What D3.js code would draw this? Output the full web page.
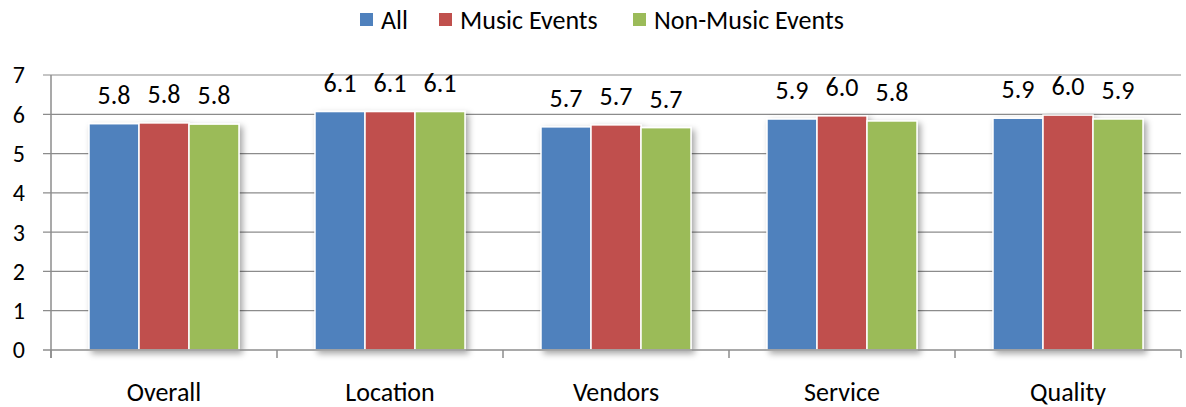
<!DOCTYPE html>
<html>
<head>
<meta charset="utf-8">
<script src="https://cdn.jsdelivr.net/npm/d3@7"></script>
<style>
  body { margin: 0; background: #fff; }
  svg { display: block; font-family: Carlito, Calibri, Lato, sans-serif; }
</style>
</head>
<body>
<svg id="chart" width="1186" height="407"></svg>
<script>
const categories = ["Overall", "Location", "Vendors", "Service", "Quality"];
const seriesNames = ["All", "Music Events", "Non-Music Events"];
const allValues = [5.76, 6.07, 5.68, 5.88, 5.9];
const musicValues = [5.78, 6.07, 5.73, 5.96, 5.98];
const nonMusicValues = [5.75, 6.07, 5.66, 5.83, 5.88];
const yTicks = [0, 1, 2, 3, 4, 5, 6, 7];
const colors = ["#4f81bd", "#c0504d", "#9bbb59"];

const seriesValues = [allValues, musicValues, nonMusicValues];

const svg = d3.select("#chart");
const width = 1186;
const margin = { top: 75, right: 5, bottom: 57, left: 51 };
const height = 407;

// shadow for the bar groups
const defs = svg.append("defs");
const filter = defs.append("filter").attr("id", "shadow")
  .attr("x", "-20%").attr("y", "-20%").attr("width", "140%").attr("height", "140%");
filter.append("feDropShadow")
  .attr("dx", 3).attr("dy", 3).attr("stdDeviation", 3)
  .attr("flood-color", "#000").attr("flood-opacity", 0.35);

const x = d3.scaleBand()
  .domain(categories)
  .range([margin.left, width - margin.right]);

const xInner = d3.scaleBand()
  .domain(seriesNames)
  .range([0, x.bandwidth()])
  .paddingOuter(0.76);

const y = d3.scaleLinear()
  .domain([0, 7])
  .range([height - margin.bottom, margin.top]);

// gridlines
svg.append("g")
  .selectAll("line")
  .data(yTicks.filter(d => d > 0))
  .join("line")
  .attr("x1", margin.left - 8)
  .attr("x2", width - margin.right)
  .attr("y1", d => y(d))
  .attr("y2", d => y(d))
  .attr("stroke", "#8c8c8c")
  .attr("stroke-width", 1.2);

// y axis labels
svg.append("g")
  .selectAll("text")
  .data(yTicks)
  .join("text")
  .attr("x", 25)
  .attr("y", d => y(d))
  .attr("dy", "0.35em")
  .attr("text-anchor", "end")
  .attr("font-size", 24)
  .attr("fill", "#000")
  .text(d => d);

// bars
const groups = svg.append("g")
  .selectAll("g")
  .data(categories)
  .join("g")
  .attr("transform", d => `translate(${x(d)},0)`)
  .attr("filter", "url(#shadow)");

groups.selectAll("rect")
  .data((c, i) => seriesNames.map((s, j) => ({ s, j, v: seriesValues[j][i] })))
  .join("rect")
  .attr("x", d => xInner(d.s))
  .attr("width", xInner.bandwidth())
  .attr("y", d => y(d.v))
  .attr("height", d => y(0) - y(d.v))
  .attr("fill", d => colors[d.j])
  .attr("stroke", "#fff")
  .attr("stroke-width", 1.5);

// value labels
svg.append("g")
  .selectAll("g")
  .data(categories)
  .join("g")
  .attr("transform", d => `translate(${x(d)},0)`)
  .selectAll("text")
  .data((c, i) => seriesNames.map((s, j) => ({ s, j, v: seriesValues[j][i] })))
  .join("text")
  .attr("x", d => xInner(d.s) + xInner.bandwidth() / 2)
  .attr("y", d => y(d.v) - 20)
  .attr("text-anchor", "middle")
  .attr("font-size", 26)
  .attr("fill", "#000")
  .text(d => d.v.toFixed(1));

// axes lines
const axisColor = "#8c8c8c";
svg.append("line")
  .attr("x1", margin.left).attr("x2", margin.left)
  .attr("y1", y(7)).attr("y2", y(0) + 8)
  .attr("stroke", axisColor).attr("stroke-width", 1.5);

svg.append("line")
  .attr("x1", margin.left - 8).attr("x2", width - margin.right)
  .attr("y1", y(0)).attr("y2", y(0))
  .attr("stroke", axisColor).attr("stroke-width", 1.5);

svg.append("g")
  .selectAll("line")
  .data(categories.map(c => x(c)).concat([x.range()[1]]))
  .join("line")
  .attr("x1", d => d).attr("x2", d => d)
  .attr("y1", y(0)).attr("y2", y(0) + 8)
  .attr("stroke", axisColor).attr("stroke-width", 1.5);

// category labels
svg.append("g")
  .selectAll("text")
  .data(categories)
  .join("text")
  .attr("x", d => x(d) + x.bandwidth() / 2)
  .attr("y", 401)
  .attr("text-anchor", "middle")
  .attr("font-size", 26)
  .attr("fill", "#000")
  .text(d => d);

// legend
const legendX = [360, 439, 633];
const legend = svg.append("g")
  .selectAll("g")
  .data(seriesNames)
  .join("g")
  .attr("transform", (d, i) => `translate(${legendX[i]},13)`);

legend.append("rect")
  .attr("width", 13).attr("height", 13)
  .attr("fill", (d, i) => colors[i]);

legend.append("text")
  .attr("x", 21)
  .attr("y", 6.5)
  .attr("dy", "0.35em")
  .attr("font-size", 26)
  .attr("fill", "#000")
  .text(d => d);
</script>
</body>
</html>
